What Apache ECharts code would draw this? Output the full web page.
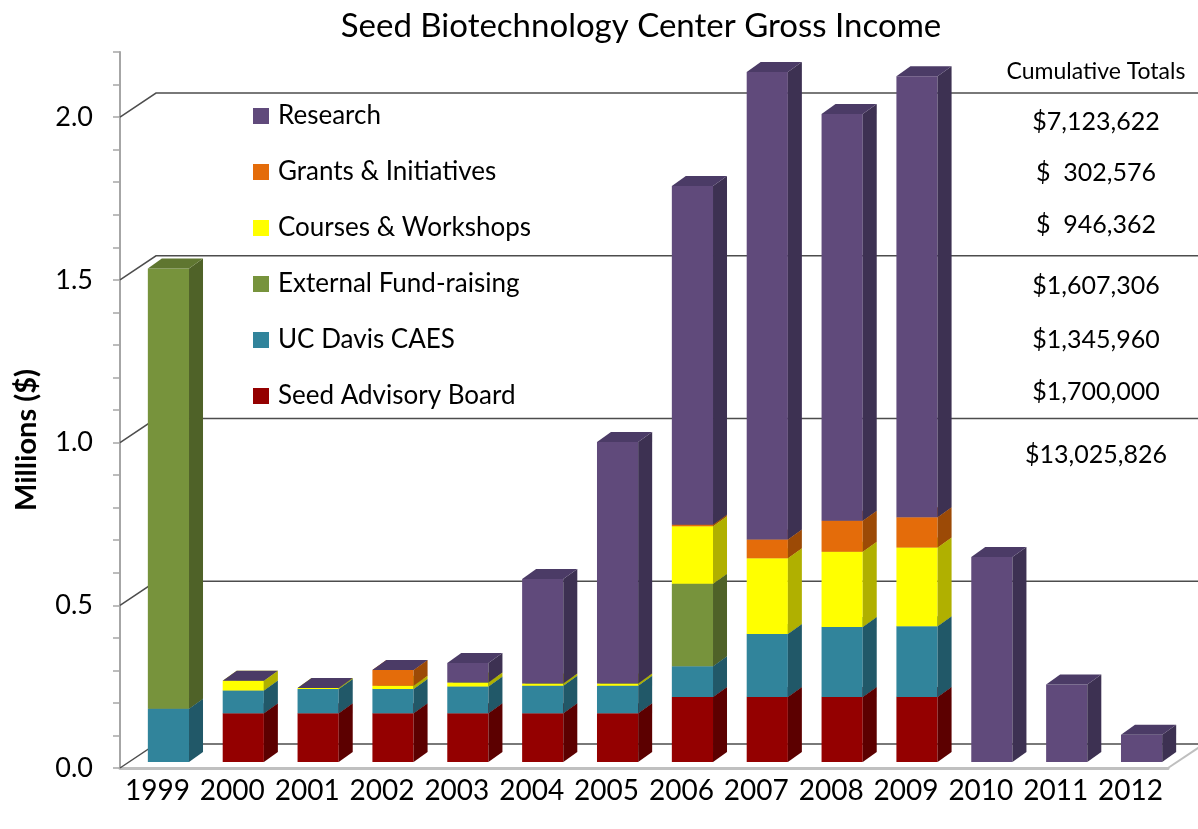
<!DOCTYPE html>
<html>
<head>
<meta charset="utf-8">
<script src="https://cdn.jsdelivr.net/npm/echarts@6/dist/echarts.min.js"></script>
<style>
  html, body { margin: 0; padding: 0; background: #fff; }
  #chart { width: 1198px; height: 829px; }
</style>
</head>
<body>
<div id="chart"></div>
<script>
// years on the x axis
const years = ['1999', '2000', '2001', '2002', '2003', '2004', '2005', '2006', '2007', '2008', '2009', '2010', '2011', '2012'];

// income by source, millions of dollars (null = no segment)
const seedBoard = [null, 0.15, 0.15, 0.15, 0.15, 0.15, 0.15, 0.2, 0.2, 0.2, 0.2, null, null, null];
const ucDavis   = [0.164, 0.07, 0.074, 0.074, 0.082, 0.084, 0.084, 0.094, 0.193, 0.215, 0.217, null, null, null];
const external  = [1.352, null, null, null, null, null, null, 0.254, null, null, null, null, null, null];
const courses   = [null, 0.03, 0.003, 0.01, 0.012, 0.007, 0.007, 0.176, 0.233, 0.231, 0.242, null, null, null];
const grants    = [null, null, null, 0.049, null, null, null, 0.005, 0.058, 0.095, 0.093, null, null, null];
const research  = [null, 0, 0, 0, 0.06, 0.321, 0.742, 1.041, 1.436, 1.25, 1.355, 0.63, 0.238, 0.084];

const yTicks = [0, 0.5, 1.0, 1.5, 2.0];

const totalLabels = ['$7,123,622', '$  302,576', '$  946,362', '$1,607,306', '$1,345,960', '$1,700,000', '$13,025,826'];

const layers = [
  { name: 'Seed Advisory Board',     data: seedBoard, front: '#940000', side: '#5c0000', top: '#760000' },
  { name: 'UC Davis CAES',           data: ucDavis,   front: '#31849b', side: '#215868', top: '#276a7d' },
  { name: 'External Fund-raising',   data: external,  front: '#77933c', side: '#4f6228', top: '#5f7630' },
  { name: 'Courses & Workshops',     data: courses,   front: '#ffff00', side: '#b0b000', top: '#cccc00' },
  { name: 'Grants & Initiatives',    data: grants,    front: '#e46c0a', side: '#9c4a06', top: '#b85607' },
  { name: 'Research',                data: research,  front: '#604a7b', side: '#3d3152', top: '#4b3b66' },
];

const FONT = 'Lato';
// depth look
const OX = 11, OY = 6;     // bar front face offset from the axis plane
const SX = 14, SY = 10;    // bar side depth
const WX = 36, WY = 24;    // back wall depth

const chart = echarts.init(document.getElementById('chart'), null, { renderer: 'canvas' });

// stack bases
const running = years.map(() => 0);
const cubeSeries = layers.map((l) => {
  const rows = [];
  l.data.forEach((v, i) => {
    if (v === null) return;
    rows.push([i, v, running[i]]);
    running[i] += v;
  });
  return {
    name: l.name,
    type: 'custom',
    clip: false,
    z: 3,
    itemStyle: { color: l.front },
    encode: { x: 0, y: 1 },
    data: rows,
    renderItem: (params, api) => {
      const cat = api.value(0);
      const v = api.value(1);
      const base = api.value(2);
      const p0 = api.coord([cat, base]);
      const p1 = api.coord([cat, base + v]);
      const band = api.size([1, 0])[0];
      const w = band * 0.55;
      const x0 = p0[0] + OX - w / 2;
      const x1 = x0 + w;
      const yb = p0[1] - OY;
      const yt = p1[1] - OY;
      return {
        type: 'group',
        children: [
          { type: 'rect', shape: { x: x0, y: yt, width: w, height: yb - yt }, style: { fill: l.front } },
          { type: 'polygon', shape: { points: [[x1, yb], [x1 + SX, yb - SY], [x1 + SX, yt - SY], [x1, yt]] }, style: { fill: l.side } },
          { type: 'polygon', shape: { points: [[x0, yt], [x1, yt], [x1 + SX, yt - SY], [x0 + SX, yt - SY]] }, style: { fill: l.top } },
        ],
      };
    },
  };
});

// back wall grid lines + left wall connectors
const wallSeries = {
  type: 'custom',
  silent: true,
  clip: false,
  z: 1,
  data: yTicks.map((v) => [0, v]),
  encode: { x: 0, y: 1 },
  renderItem: (params, api) => {
    const cs = params.coordSys;
    const y = api.coord([0, api.value(1)])[1];
    const children = [
      { type: 'polyline', shape: { points: [[cs.x, y], [cs.x + WX, y - WY], [cs.x + cs.width + WX, y - WY]] },
        style: { stroke: '#4d4d4d', lineWidth: 1.5, fill: null } },
    ];
    if (api.value(1) === 0) {
      children.push({ type: 'line', shape: { x1: cs.x + cs.width, y1: y, x2: cs.x + cs.width + WX, y2: y - WY },
        style: { stroke: '#bfbfbf', lineWidth: 2 } });
    }
    return { type: 'group', children };
  },
};

const totalsGraphics = totalLabels.map((t, i) => ({
  type: 'text',
  x: 1096,
  y: [122, 173, 225, 286, 340, 392, 455][i],
  style: { text: t, font: `25px ${FONT}`, fill: '#000', textAlign: 'center', textVerticalAlign: 'middle' },
}));

chart.setOption({
  backgroundColor: '#fff',
  animation: false,
  title: {
    text: 'Seed Biotechnology Center Gross Income',
    left: 636,
    textAlign: 'center',
    top: 5,
    textStyle: { fontFamily: FONT, fontSize: 33, fontWeight: 'normal', color: '#000' },
  },
  legend: {
    orient: 'vertical',
    left: 253,
    top: 103,
    padding: 0,
    icon: 'rect',
    itemWidth: 16,
    itemHeight: 16,
    itemGap: 30,
    data: layers.map((l) => l.name).reverse(),
    textStyle: { fontFamily: FONT, fontSize: 26, lineHeight: 25, color: '#000', padding: [0, 0, 0, 4] },
  },
  grid: { left: 120, right: 30, top: 52, bottom: 61 },
  xAxis: {
    type: 'category',
    data: years,
    axisLine: { lineStyle: { color: '#c0c0c0', width: 3 } },
    axisTick: { length: 9, lineStyle: { color: '#8c8c8c', width: 1.5 } },
    axisLabel: { interval: 0, margin: 9, fontFamily: FONT, fontSize: 28, color: '#000' },
  },
  yAxis: {
    type: 'value',
    min: 0,
    max: 2.2,
    interval: 0.1,
    axisLine: { show: true, lineStyle: { color: '#a6a6a6', width: 2 } },
    axisTick: { show: true, length: 7, lineStyle: { color: '#a6a6a6', width: 1.5 } },
    splitLine: { show: false },
    axisLabel: {
      margin: 27,
      fontFamily: FONT,
      fontSize: 27,
      color: '#000',
      formatter: (v) => (Math.round(v * 10) % 5 === 0 && v < 2.15 ? v.toFixed(1) : ''),
    },
  },
  graphic: [
    {
      type: 'text',
      x: 27,
      y: 440,
      rotation: Math.PI / 2,
      style: { text: 'Millions ($)', font: `bold 29px ${FONT}`, fill: '#000', textAlign: 'center', textVerticalAlign: 'middle' },
    },
    {
      type: 'text',
      x: 1096,
      y: 72,
      style: { text: 'Cumulative Totals', font: `23px ${FONT}`, fill: '#000', textAlign: 'center', textVerticalAlign: 'middle' },
    },
    ...totalsGraphics,
  ],
  series: [wallSeries, ...cubeSeries],
});
</script>
</body>
</html>
